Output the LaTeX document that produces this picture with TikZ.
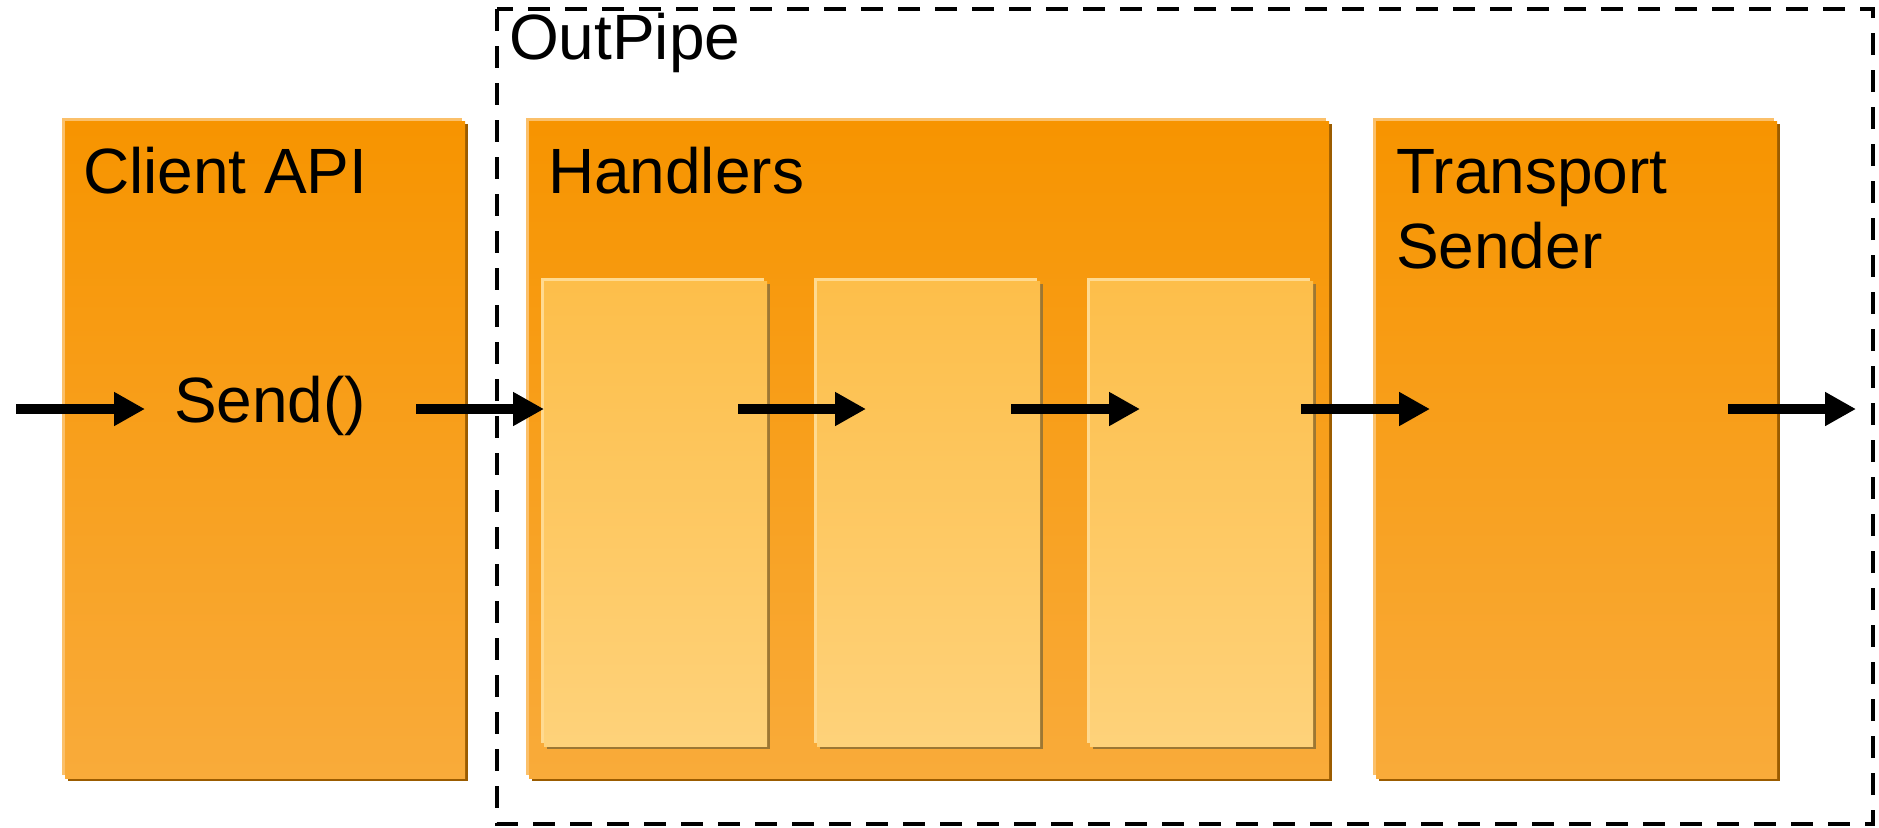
\documentclass[tikz,border=0pt]{standalone}
\usepackage{fontspec}
\setmainfont{Liberation Sans}
\usetikzlibrary{arrows.meta,shadows}
\definecolor{otop}{HTML}{F79400}
\definecolor{obot}{HTML}{F9AB3A}
\definecolor{ohl}{HTML}{FBC06A}
\definecolor{oshad}{HTML}{9B5C00}
\definecolor{itop}{HTML}{FDBE4A}
\definecolor{ibot}{HTML}{FED27A}
\definecolor{ihl}{HTML}{FFDA90}
\definecolor{ishad}{HTML}{9D7733}
\tikzset{
  outerbox/.style={anchor=north west, inner sep=0pt, outer sep=0pt, top color=otop, bottom color=obot, draw=none,
    general shadow={fill=oshad, shadow xshift=1.5pt, shadow yshift=-1.5pt},
    general shadow={fill=ohl, shadow xshift=-1.5pt, shadow yshift=1.5pt}},
  innerbox/.style={anchor=north west, inner sep=0pt, outer sep=0pt, top color=itop, bottom color=ibot, draw=none,
    minimum width=111.5pt, minimum height=232.5pt,
    general shadow={fill=ishad, shadow xshift=1.5pt, shadow yshift=-1.5pt},
    general shadow={fill=ihl, shadow xshift=-1.5pt, shadow yshift=1.5pt}},
  lbl/.style={anchor=base west, inner sep=0pt, outer sep=0pt, font=\fontsize{32}{37.5}\selectfont, align=left},
  flow/.style={line width=5pt, line cap=butt, -{Triangle[length=15.5pt, width=16pt]}},
  dashbox/.style={draw=black, line width=2pt, dash pattern=on 11pt off 7.5pt}
}
\begin{document}
\begin{tikzpicture}[x=0.5pt, y=-0.5pt]
\useasboundingbox (0,0) rectangle (1879,827);
% dashed OutPipe frame
\draw[dashbox] (497,9) rectangle (1873,824);
\node[lbl] (outpipe) at (509,59) {OutPipe};
% outer boxes
\node[outerbox, minimum width=200pt, minimum height=328.5pt] (client) at (65,121) {};
\node[outerbox, minimum width=400pt, minimum height=328.5pt] (handlers) at (529,121) {};
\node[outerbox, minimum width=200.5pt, minimum height=328.5pt] (transport) at (1376,121) {};
% inner handler boxes
\node[innerbox] (h1) at (544,281) {};
\node[innerbox] (h2) at (817,281) {};
\node[innerbox] (h3) at (1090,281) {};
% labels
\node[lbl] (clientlbl) at (83,193) {Client API};
\node[lbl] (sendlbl) at (174,422) {Send()};
\node[lbl] (handlerslbl) at (548,193) {Handlers};
\node[lbl] (transportlbl) at (1396,268) {Transport\\Sender};
% arrow endpoints
\coordinate (a1s) at (16,409);   \coordinate (a1e) at (145,409);
\coordinate (a2s) at (416,409);  \coordinate (a2e) at (544,409);
\coordinate (a3s) at (738,409);  \coordinate (a3e) at (866,409);
\coordinate (a4s) at (1011,409); \coordinate (a4e) at (1140,409);
\coordinate (a5s) at (1301,409); \coordinate (a5e) at (1430,409);
\coordinate (a6s) at (1728,409); \coordinate (a6e) at (1856,409);
\draw[flow] (a1s) -- (a1e);
\draw[flow] (a2s) -- (a2e);
\draw[flow] (a3s) -- (a3e);
\draw[flow] (a4s) -- (a4e);
\draw[flow] (a5s) -- (a5e);
\draw[flow] (a6s) -- (a6e);
\end{tikzpicture}
\end{document}
